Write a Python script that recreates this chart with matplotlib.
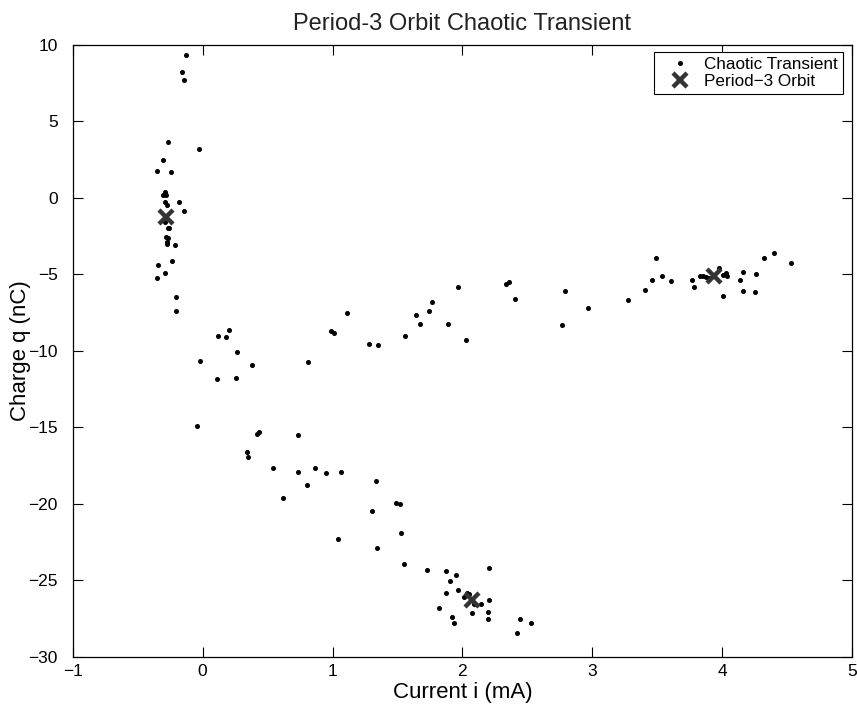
import matplotlib
matplotlib.use("Agg")
import matplotlib.pyplot as plt

plt.rcParams['font.family'] = ['Liberation Sans', 'DejaVu Sans']
plt.rcParams['axes.unicode_minus'] = True

# Chaotic transient points (current mA, charge nC)
transient_i = [
    -0.128, -0.159, -0.141, -0.269, -0.025, -0.303, -0.352, -0.241, -0.287, -0.308,
    -0.285, -0.292, -0.185, -0.274, -0.144, -0.292, -0.262, -0.270, -0.279, -0.270,
    -0.272, -0.272, -0.210, -0.238, -0.341, -0.290, -0.349, -0.205, -0.208,
    1.764, 1.115, 1.646, 1.741, 1.674, 0.200, 0.118, 0.180, 0.990, 1.015,
    1.556, 1.282, 1.351, 0.264, -0.018, 0.379, 0.815, 0.108, 0.259, -0.044,
    0.433, 0.420, 0.736, 0.344, 0.351, 0.544, 0.738, 0.864, 0.949, 1.069,
    0.805, 1.338, 0.615, 1.305, 1.489, 1.520, 1.525, 1.046, 1.344,
    1.549, 1.728, 1.872, 1.954, 2.203, 1.908, 1.967, 1.872, 2.033, 2.054,
    2.015, 2.092, 2.146, 2.203, 1.818, 2.077, 2.195, 1.923, 2.197, 1.936,
    2.444, 2.528, 2.418,
    1.887, 1.964, 2.031, 2.336, 2.362, 2.403, 2.790, 2.767, 2.969,
    3.272, 3.405, 3.462, 3.495, 3.538, 3.610, 3.772, 3.785, 3.831, 3.851,
    3.879, 3.900, 3.977, 4.008, 4.028, 4.036, 4.005, 4.141, 4.164, 4.164,
    4.259, 4.251, 4.323, 4.402, 4.528,
]
transient_q = [
    9.33, 8.21, 7.73, 3.66, 3.22, 2.44, 1.78, 1.68, 0.41, 0.20,
    0.20, -0.28, -0.26, -0.50, -0.87, -1.55, -1.94, -2.00, -2.53, -2.60,
    -2.90, -3.00, -3.07, -4.10, -4.40, -4.90, -5.23, -6.49, -7.39,
    -6.82, -7.50, -7.63, -7.37, -8.24, -8.61, -9.00, -9.07, -8.71, -8.82,
    -9.00, -9.56, -9.61, -10.07, -10.68, -10.92, -10.74, -11.81, -11.74, -14.92,
    -15.27, -15.40, -15.51, -16.64, -16.93, -17.63, -17.91, -17.67, -17.95, -17.93,
    -18.76, -18.50, -19.61, -20.44, -19.93, -20.02, -21.87, -22.31, -22.85,
    -23.92, -24.29, -24.40, -24.64, -24.16, -25.01, -25.64, -25.80, -25.80, -25.90,
    -26.10, -26.54, -26.54, -26.27, -26.80, -27.12, -27.08, -27.39, -27.50, -27.76,
    -27.50, -27.76, -28.41,
    -8.24, -5.84, -9.30, -5.64, -5.53, -6.58, -6.08, -8.30, -7.19,
    -6.65, -5.99, -5.40, -3.90, -5.10, -5.42, -5.36, -5.84, -5.12, -5.10,
    -5.18, -5.25, -4.56, -5.05, -4.92, -5.14, -6.39, -5.38, -4.84, -6.12,
    -4.95, -6.16, -3.90, -3.62, -4.29,
]

# Period-3 orbit points
orbit_i = [-0.285, 2.074, 3.938]
orbit_q = [-1.22, -26.27, -5.10]

x_ticks = [-1, 0, 1, 2, 3, 4, 5]
y_ticks = [10, 5, 0, -5, -10, -15, -20, -25, -30]

fig = plt.figure(figsize=(8.57, 7.11), dpi=100)
ax = fig.add_axes([0.085, 0.076, 0.909, 0.861])

ax.plot(transient_i, transient_q, linestyle='none', marker='o', markersize=2.6,
        color='black', label='Chaotic Transient')
ax.plot(orbit_i, orbit_q, linestyle='none', marker='x', markersize=10,
        markeredgewidth=3.2, color='#333333', label='Period\u22123 Orbit')

ax.set_xlim(-1, 5)
ax.set_ylim(-30, 10)
ax.set_xticks(x_ticks)
ax.set_yticks(y_ticks)
ax.tick_params(direction='in', top=True, right=True, length=7, width=0.8,
               labelsize=12.5)
ax.tick_params(axis='y', pad=11)
ax.tick_params(axis='x', pad=5)
for s in ax.spines.values():
    s.set_linewidth(0.9)

ax.set_xlabel('Current i (mA)', fontsize=16, labelpad=2)
ax.set_ylabel('Charge q (nC)', fontsize=16, labelpad=-2)
ax.set_title('Period-3 Orbit Chaotic Transient', fontsize=17, pad=11,
             color='#222222')

leg = ax.legend(loc='upper right', bbox_to_anchor=(0.988, 0.988), fontsize=12.3,
                frameon=True, fancybox=False, edgecolor='black', framealpha=1,
                borderpad=0.3, handletextpad=0.2, handlelength=2.4,
                labelspacing=0.12, borderaxespad=0)
leg.get_frame().set_linewidth(0.8)

fig.savefig('out.png', dpi=100)
